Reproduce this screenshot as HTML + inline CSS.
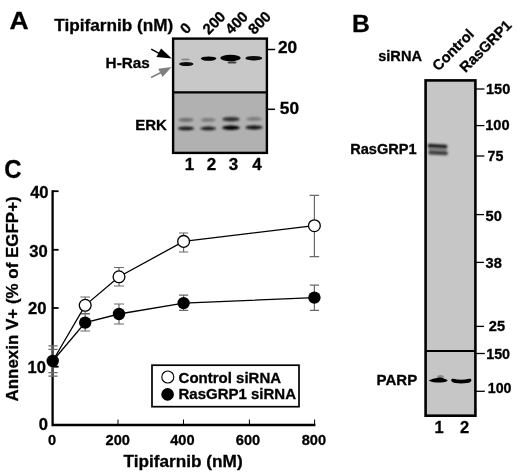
<!DOCTYPE html>
<html><head><meta charset="utf-8"><title>Figure</title>
<style>
html,body{margin:0;padding:0;background:#fff;}
svg{display:block;}
text{font-family:"Liberation Sans",sans-serif;font-weight:bold;fill:#000;stroke:#000;stroke-width:0.3px;}
</style></head><body>
<svg width="520" height="475" viewBox="0 0 520 475">
<defs>
<filter id="b0" x="-20%" y="-150%" width="140%" height="400%"><feGaussianBlur stdDeviation="0.65"/></filter>
<filter id="b1" x="-20%" y="-150%" width="140%" height="400%"><feGaussianBlur stdDeviation="0.9"/></filter>
<filter id="b2" x="-20%" y="-150%" width="140%" height="400%"><feGaussianBlur stdDeviation="1.3"/></filter>
</defs>
<rect width="520" height="475" fill="#fff"/>

<!-- Panel A -->
<g id="panelA">
<text transform="translate(9.6,28.8) scale(1.09,1)" font-size="24.3">A</text>
<text x="54.2" y="31.3" font-size="17.2">Tipifarnib (nM)</text>
<g font-size="15">
<text transform="translate(186.3,34.7) rotate(-45)">0</text>
<text transform="translate(208.8,35.2) rotate(-45)">200</text>
<text transform="translate(231.3,35.2) rotate(-45)">400</text>
<text transform="translate(254.3,35.2) rotate(-45)">800</text>
</g>
<rect x="173.1" y="38.6" width="93.8" height="54" fill="#c8c8c8"/>
<rect x="173.1" y="92.4" width="93.8" height="60.5" fill="#b1b1b1"/>
<!-- H-Ras bands -->
<g filter="url(#b0)">
<ellipse cx="185.5" cy="59.4" rx="4.5" ry="1" fill="#8a8a8a"/>
<ellipse cx="186.3" cy="64" rx="7.2" ry="2.1" fill="#0c0c0c"/>
<ellipse cx="208.6" cy="58.6" rx="7.8" ry="2.2" fill="#060606"/>
<ellipse cx="230.5" cy="58" rx="10.2" ry="3.3" fill="#000"/>
<ellipse cx="232" cy="62.4" rx="4.5" ry="1.2" fill="#444"/>
<ellipse cx="253.8" cy="58.2" rx="8.4" ry="2.3" fill="#080808"/>
</g>
<!-- ERK bands -->
<g filter="url(#b2)">
<ellipse cx="186" cy="119.9" rx="7.5" ry="1.9" fill="#6c6c6c"/>
<ellipse cx="208.2" cy="119.9" rx="7.5" ry="1.8" fill="#787878"/>
<ellipse cx="231" cy="119.2" rx="8.6" ry="2.3" fill="#2e2e2e"/>
<ellipse cx="254" cy="118.9" rx="8" ry="1.8" fill="#7a7a7a"/>
</g>
<g filter="url(#b1)">
<ellipse cx="186" cy="128.4" rx="8" ry="1.9" fill="#161616"/>
<ellipse cx="208.2" cy="128.4" rx="7.8" ry="1.8" fill="#1c1c1c"/>
<ellipse cx="231" cy="127.8" rx="9" ry="2.2" fill="#040404"/>
<ellipse cx="254" cy="127.4" rx="8.6" ry="2" fill="#0c0c0c"/>
</g>
<rect x="173.1" y="38.6" width="93.8" height="114.3" fill="none" stroke="#000" stroke-width="2.4"/>
<line x1="173.1" y1="92.4" x2="266.9" y2="92.4" stroke="#000" stroke-width="2.3"/>
<text x="105.6" y="67.6" font-size="15.3">H-Ras</text>
<text x="135.2" y="129.5" font-size="15">ERK</text>
<!-- arrows -->
<line x1="151.2" y1="49.1" x2="161" y2="54.3" stroke="#000" stroke-width="1.5"/>
<polygon points="171.8,58.5 161.1,48.6 156.4,57" fill="#000"/>
<line x1="151" y1="77.5" x2="162" y2="72" stroke="#808080" stroke-width="1.4"/>
<polygon points="171.6,67 158.2,68.7 162.6,77" fill="#808080"/>
<!-- ticks -->
<line x1="267" y1="49.5" x2="275.2" y2="49.5" stroke="#000" stroke-width="1.5"/>
<line x1="267" y1="109.3" x2="275" y2="109.3" stroke="#000" stroke-width="1.5"/>
<text x="278" y="53.2" font-size="17.3">20</text>
<text x="279.8" y="114.3" font-size="17.3">50</text>
<g font-size="17" text-anchor="middle">
<text x="189.5" y="169.8">1</text>
<text x="211.5" y="169.8">2</text>
<text x="233.6" y="169.8">3</text>
<text x="257" y="169.8">4</text>
</g>
</g>

<!-- Panel B -->
<g id="panelB">
<text x="352" y="32.2" font-size="24.7">B</text>
<text x="378.2" y="61" font-size="14.6">siRNA</text>
<g font-size="14.6">
<text transform="translate(438.3,71.8) rotate(-45)">Control</text>
<text transform="translate(465.5,73.2) rotate(-45)">RasGRP1</text>
</g>
<rect x="425.6" y="80.4" width="49.8" height="335.3" fill="#c6c6c6"/>
<g filter="url(#b1)">
<rect x="428.4" y="146.5" width="18.4" height="5" fill="#8c8c8c" transform="rotate(3 438 149.5)"/>
<rect x="427.8" y="144.2" width="19.6" height="3.9" rx="1.6" fill="#1e1e1e" transform="rotate(3 437.6 146.2)"/>
<rect x="428.4" y="150.9" width="19.4" height="4" rx="1.7" fill="#3c3c3c" transform="rotate(3 438 152.9)"/>
</g>
<g filter="url(#b0)">
<ellipse cx="440.5" cy="376.6" rx="3.4" ry="1.6" fill="#8a8a8a"/>
<path d="M428.6,380.4 Q433,378.4 438,377.7 Q441,377.1 443.2,378.3 Q446,379.3 447.8,380.3 Q446,382.4 441,382.6 Q433,382.8 428.6,380.4 Z" fill="#060606"/>
<path d="M451.2,379.8 Q451.4,378.3 453.5,378.8 Q461,380.5 469,378.8 Q471.4,378.3 471.4,380 Q471.3,382.7 467,383.1 Q461,383.8 455,383.1 Q451.3,382.5 451.2,379.8 Z" fill="#060606"/>
</g>
<rect x="425.6" y="80.4" width="49.8" height="335.3" fill="none" stroke="#000" stroke-width="2.6"/>
<line x1="425.6" y1="351" x2="475.4" y2="351" stroke="#000" stroke-width="2.2"/>
<text x="350.2" y="154.2" font-size="14.6">RasGRP1</text>
<text x="376.6" y="385.4" font-size="15">PARP</text>
<g stroke="#000" stroke-width="1.3">
<line x1="476" y1="89" x2="484.4" y2="89"/>
<line x1="476" y1="125.6" x2="484.4" y2="125.6"/>
<line x1="476" y1="156" x2="484.4" y2="156"/>
<line x1="476" y1="214.6" x2="484" y2="214.6"/>
<line x1="476" y1="262.4" x2="484" y2="262.4"/>
<line x1="476" y1="326.4" x2="484" y2="326.4"/>
<line x1="476" y1="353.5" x2="484.8" y2="353.5"/>
<line x1="476" y1="391.3" x2="484.8" y2="391.3"/>
</g>
<g font-size="14.6">
<text x="486" y="94.1">150</text>
<text x="485.2" y="130.4">100</text>
<text x="487.6" y="161.1" font-size="14.2">75</text>
<text x="485.6" y="220.5">50</text>
<text x="485.6" y="267.7">38</text>
<text x="488.8" y="331.2">25</text>
<text x="486.2" y="358.7" font-size="14.3">150</text>
<text x="487.8" y="392.8" font-size="14.2">100</text>
</g>
<g font-size="16.5" text-anchor="middle">
<text x="439.2" y="433">1</text>
<text x="464.6" y="433">2</text>
</g>
</g>

<!-- Panel C -->
<g id="panelC">
<text transform="translate(4.3,177.9) scale(0.92,1)" font-size="26">C</text>
<text transform="translate(17.7,401.5) rotate(-90)" font-size="16.95">Annexin V+ (% of EGFP+)</text>
<text x="123.6" y="467" font-size="17.2">Tipifarnib (nM)</text>
<!-- axes -->
<polyline points="52.6,190.3 52.6,425 315.4,425" fill="none" stroke="#000" stroke-width="2.3"/>
<g stroke="#000" stroke-width="1.8">
<line x1="52.6" y1="191.2" x2="58.6" y2="191.2"/>
<line x1="52.6" y1="249.8" x2="58.6" y2="249.8"/>
<line x1="52.6" y1="308" x2="58.6" y2="308"/>
<line x1="52.6" y1="366.7" x2="58.6" y2="366.7"/>
</g>
<g stroke="#000" stroke-width="1">
<line x1="118" y1="425" x2="118" y2="419.5"/>
<line x1="183.5" y1="425" x2="183.5" y2="419.5"/>
<line x1="249.4" y1="425" x2="249.4" y2="419.5"/>
<line x1="314.6" y1="425" x2="314.6" y2="419.5"/>
</g>
<g font-size="16.6" text-anchor="end">
<text x="48.6" y="198.3">40</text>
<text x="47.7" y="256.5">30</text>
<text x="46.4" y="314.4">20</text>
<text x="45.9" y="372.6">10</text>
<text x="48" y="430.4">0</text>
</g>
<g font-size="14.6" text-anchor="middle">
<text x="52" y="444.5">0</text>
<text x="117.7" y="444.5">200</text>
<text x="182.4" y="444.5">400</text>
<text x="248" y="444.5">600</text>
<text x="313.9" y="444.5">800</text>
</g>
<!-- error bars -->
<g stroke="#6a6a6a" stroke-width="1.2" fill="none">
<path d="M52.9,345.8 V376.2 M48.4,345.8 H57.6 M48.4,349.4 H57.6 M48.4,372.6 H57.6 M48.4,376.2 H57.6"/>
<path d="M85.2,297 V313.5 M80.4,297 H90 M80.4,313.5 H90"/>
<path d="M85.2,314 V331 M80.4,314 H90 M80.4,331 H90"/>
<path d="M119,267.5 V286 M114,267.5 H124 M114,286 H124"/>
<path d="M119,304 V324 M114,304 H124 M114,324 H124"/>
<path d="M183.6,233 V252 M179,233 H188.2 M179,252 H188.2"/>
<path d="M183.6,295.1 V310.4 M179,295.1 H188.2 M179,310.4 H188.2"/>
<path d="M314.4,195.3 V256.7 M309.6,195.3 H319.2 M309.6,256.7 H319.2"/>
<path d="M314.4,285.2 V310.4 M309.8,285.2 H319 M309.8,310.4 H319"/>
</g>
<!-- lines -->
<polyline points="52.7,361 85.2,305.3 119,276.8 183.6,241.4 314.4,225.7" fill="none" stroke="#000" stroke-width="1.3"/>
<polyline points="52.7,361 85.2,322.6 119,314 183.6,303.1 314.4,297.6" fill="none" stroke="#000" stroke-width="1.3"/>
<g fill="#fff" stroke="#000" stroke-width="1.3">
<circle cx="85.2" cy="305.3" r="5.9"/>
<circle cx="119" cy="276.8" r="5.9"/>
<circle cx="183.6" cy="241.4" r="5.9"/>
<circle cx="314.4" cy="225.7" r="5.9"/>
</g>
<g fill="#000">
<circle cx="52.7" cy="361" r="6.2"/>
<circle cx="85.2" cy="322.6" r="6.2"/>
<circle cx="119" cy="314" r="6.2"/>
<circle cx="183.6" cy="303.1" r="6.2"/>
<circle cx="314.4" cy="297.6" r="6.2"/>
</g>
<!-- legend -->
<rect x="152" y="365.2" width="147" height="41.5" fill="#fff" stroke="#000" stroke-width="1.7"/>
<circle cx="167.8" cy="377" r="6" fill="#fff" stroke="#000" stroke-width="1.1"/>
<circle cx="167.6" cy="394.4" r="6.3" fill="#000"/>
<text x="178.6" y="383" font-size="15">Control siRNA</text>
<text x="178.5" y="399.3" font-size="15">RasGRP1 siRNA</text>
</g>
</svg>
</body></html>
